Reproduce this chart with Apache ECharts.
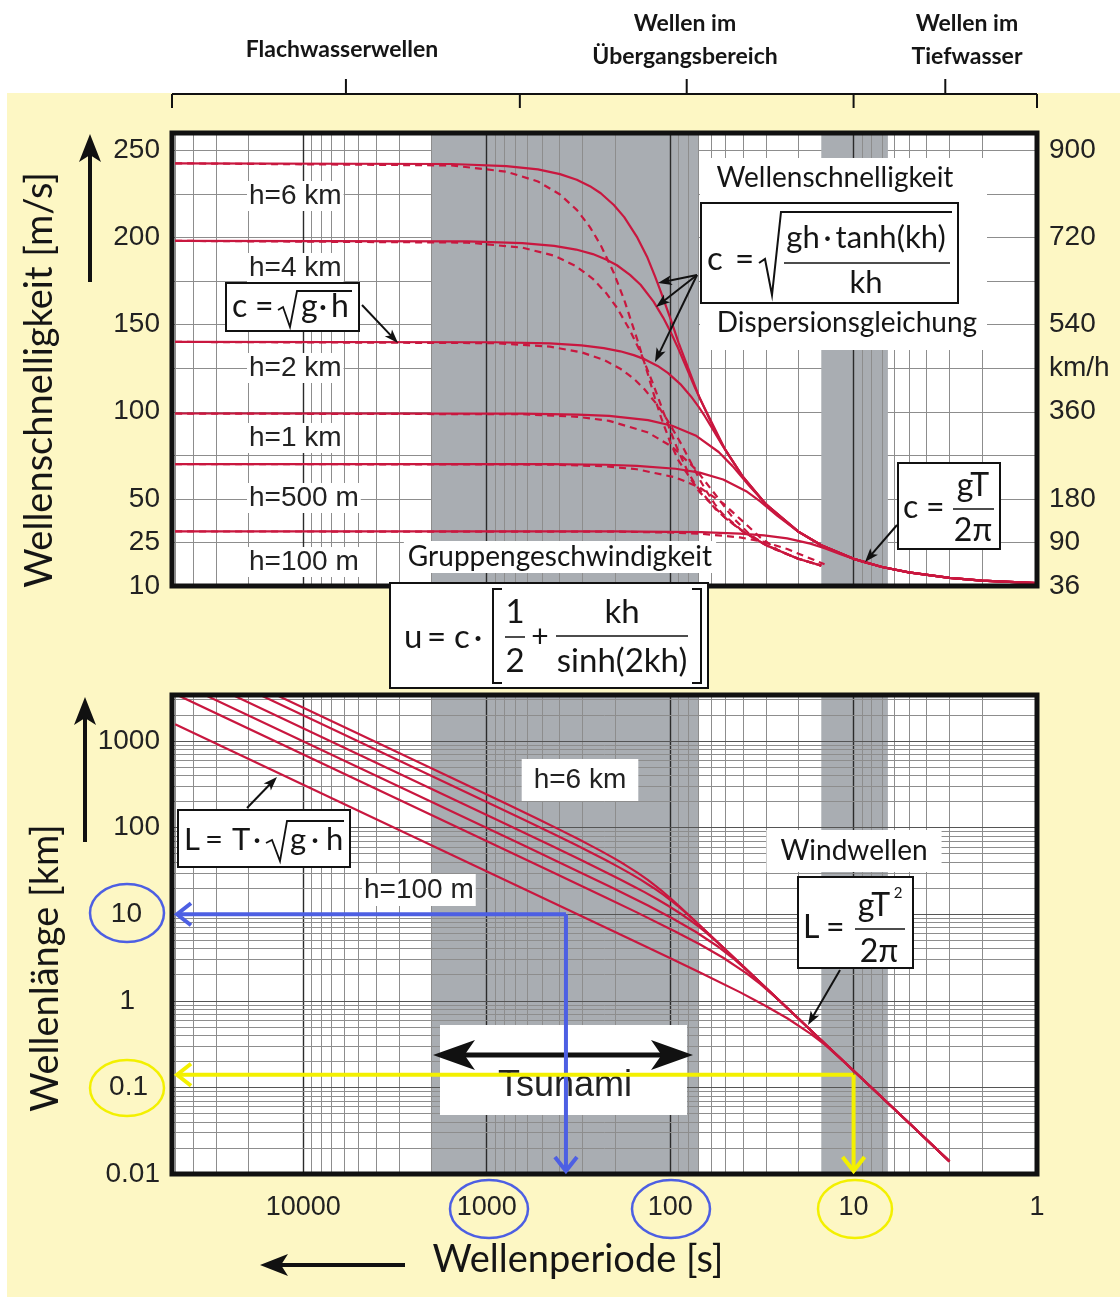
<!DOCTYPE html>
<html>
<head>
  <meta charset="UTF-8">
  <title>Wellenschnelligkeit und Wellenlänge</title>
  <script src="https://cdn.jsdelivr.net/npm/echarts@6/dist/echarts.min.js"></script>
  <style>
    body { margin: 0; background: #fff; }
    #main { width: 1120px; height: 1299px; }
  </style>
</head>
<body>
<div id="main"></div>
<script type="text/javascript">
  // ---- ticks ----
  var periodTicks = [1, 10, 100, 1000, 10000];
  var periodTickLabels = ['1', '10', '100', '1000', '10000'];
  var speedTickValues = [0, 25, 50, 100, 150, 200, 250];
  var speedTickLeft = ['10', '25', '50', '100', '150', '200', '250'];
  var speedTickRightValues = [0, 25, 50, 100, 125, 150, 200, 250];
  var speedTickRight = ['36', '90', '180', '360', 'km/h', '540', '720', '900'];
  var lengthTicks = [0.01, 0.1, 1, 10, 100, 1000];
  var lengthTickLabels = ['0.01', '0.1', '1', '10', '100', '1000'];
  var lengthLabelPad = [0, 12, 25, 18, 0, 0];

  // grey period bands [from, to] in s
  var bandRanges = [[2000, 70], [15, 6.5]];
  // bracket limits of the three wave regimes (s)
  var regimeLimits = [52000, 660, 10, 1];

  // ---- curves ----
  var depths = ['h=6 km', 'h=4 km', 'h=2 km', 'h=1 km', 'h=500 m', 'h=100 m'];

  var period6000 = [50000, 1557, 782, 526, 398.6, 323, 273.8, 239, 202.8, 178, 150.9, 133, 121.1, 112, 98.9, 90, 69.5, 50, 40, 30, 20, 15, 10, 7, 5, 3, 2, 1];
  var phase6000 = [242.6, 242.2, 241.0, 239.1, 236.4, 233.2, 229.5, 225.4, 218.7, 211.7, 199.9, 188.5, 177.9, 168.4, 152.4, 139.7, 108.5, 78.1, 62.4, 46.8, 31.2, 23.4, 15.6, 10.9, 7.8, 4.7, 3.1, 1.6];
  var group6000 = [242.6, 241.4, 237.8, 232.2, 224.7, 215.9, 206.0, 195.6, 179.7, 164.2, 141.2, 122.4, 107.8, 96.6, 81.3, 71.9, 54.2, 39.0, 31.2, 23.4, 15.6, 11.7];
  var length6000 = [12130, 377, 188.5, 125.8, 94.2, 75.3, 62.8, 53.9, 44.4, 37.7, 30.2, 25.1, 21.5, 18.9, 15.1, 12.6, 7.54, 3.90, 2.50, 1.40, 0.624, 0.351, 0.156, 0.0765, 0.039, 0.014];

  var period4000 = [50000, 1271, 639, 429, 325.5, 264, 223.6, 195, 165.6, 145, 123.2, 109, 98.9, 91.4, 80.8, 73.4, 56.8, 50, 40, 30, 20, 15, 10, 7, 5, 3, 2, 1];
  var phase4000 = [198.1, 197.8, 196.8, 195.2, 193.1, 190.5, 187.4, 184.1, 178.6, 172.9, 163.2, 153.9, 145.3, 137.5, 124.4, 114.1, 88.6, 78.1, 62.4, 46.8, 31.2, 23.4, 15.6, 10.9, 7.8, 4.7, 3.1, 1.6];
  var group4000 = [198.1, 197.1, 194.2, 189.6, 183.5, 176.3, 168.2, 159.7, 146.7, 134.1, 115.3, 100.0, 88.0, 78.8, 66.4, 58.7, 44.3, 39.0, 31.2, 23.4, 15.6, 11.7];
  var length4000 = [9905, 251.4, 125.8, 83.7, 62.9, 50.3, 41.9, 35.9, 29.6, 25.1, 20.1, 16.8, 14.4, 12.6, 10.05, 8.37, 5.03, 3.90, 2.50, 1.40, 0.624, 0.351, 0.156, 0.0765, 0.039, 0.014];

  var period2000 = [50000, 899, 452, 304, 230.1, 187, 158, 138, 117, 103, 87.1, 77, 69.9, 64.6, 57.1, 51.9, 40.1, 30, 20, 15, 10, 7, 5, 3, 2, 1];
  var phase2000 = [140.1, 139.9, 139.2, 138.1, 136.5, 134.7, 132.5, 130.2, 126.3, 122.3, 115.4, 108.8, 102.8, 97.3, 88.0, 80.7, 62.7, 46.8, 31.2, 23.4, 15.6, 10.9, 7.8, 4.7, 3.1, 1.6];
  var group2000 = [140.1, 139.4, 137.4, 134.1, 129.8, 124.7, 119.0, 112.9, 103.7, 94.8, 81.6, 70.7, 62.2, 55.8, 47.0, 41.5, 31.3, 23.4, 15.6, 11.7];
  var length2000 = [7005, 125.8, 62.9, 42.0, 31.4, 25.2, 20.9, 18.0, 14.8, 12.6, 10.05, 8.38, 7.19, 6.29, 5.02, 4.19, 2.51, 1.40, 0.624, 0.351, 0.156, 0.0765, 0.039, 0.014];

  var period1000 = [50000, 635, 319, 215, 132, 97.5, 72.7, 54.4, 45.7, 36.7, 28.4, 20, 15, 10, 7, 5, 3, 2, 1];
  var phase1000 = [99.0, 98.9, 98.4, 97.6, 95.2, 92.0, 86.4, 76.9, 68.8, 57.0, 44.3, 31.2, 23.4, 15.6, 10.9, 7.8, 4.7, 3.1, 1.6];
  var group1000 = [99.0, 98.6, 97.1, 94.8, 88.1, 79.9, 67.1, 50.0, 39.4, 29.4, 22.1, 15.6, 11.7];
  var length1000 = [4950, 62.8, 31.4, 21.0, 12.6, 8.97, 6.28, 4.18, 3.14, 2.09, 1.26, 0.624, 0.351, 0.156, 0.0765, 0.039, 0.014];

  var period500 = [50000, 449, 226, 152, 93.3, 69, 51.4, 38.5, 32.3, 26, 20.1, 15, 10, 7, 5, 3, 2, 1];
  var phase500 = [70.0, 69.9, 69.6, 69.0, 67.3, 65.1, 61.1, 54.4, 48.6, 40.3, 31.3, 23.4, 15.6, 10.9, 7.8, 4.7, 3.1, 1.6];
  var group500 = [70.0, 69.7, 68.7, 67.0, 62.3, 56.5, 47.4, 35.3, 27.9, 20.8, 15.7, 11.7];
  var length500 = [3500, 31.4, 15.7, 10.5, 6.28, 4.49, 3.14, 2.09, 1.57, 1.05, 0.629, 0.351, 0.156, 0.0765, 0.039, 0.014];

  var period100 = [50000, 201, 101, 67.9, 41.7, 30.8, 23, 17.2, 14.4, 11.6, 8.97, 7, 5, 3, 2, 1];
  var phase100 = [31.3, 31.3, 31.1, 30.9, 30.1, 29.1, 27.3, 24.3, 21.7, 18.0, 14.0, 10.9, 7.8, 4.7, 3.1, 1.6];
  var group100 = [31.3, 31.2, 30.7, 30.0, 27.9, 25.3, 21.2, 15.8, 12.5];
  var length100 = [1565, 6.29, 3.14, 2.10, 1.26, 0.896, 0.629, 0.418, 0.313, 0.209, 0.126, 0.0765, 0.039, 0.014];

  // marked example points: [period s, wavelength km]
  var tsunamiExample = [370, 10];
  var windExample = [10, 0.14];

  var periods = [period6000, period4000, period2000, period1000, period500, period100];
  var phases = [phase6000, phase4000, phase2000, phase1000, phase500, phase100];
  var groups = [group6000, group4000, group2000, group1000, group500, group100];
  var lengths = [length6000, length4000, length2000, length1000, length500, length100];

  // ---- layout ----
  var TOP = {left: 172, top: 133, width: 865, height: 453};
  var BOT = {left: 172, top: 695, width: 865, height: 479};
  var RED = '#c9173f';
  var BLUE = '#4d5fe3';
  var YELLOW = '#f3f000';
  var TICK_FONT = '"Liberation Sans", Arial, sans-serif';
  var TEXT_FONT = 'Lato, "Noto Sans", sans-serif';

  function pairs(xs, ys) {
    return ys.map(function (y, i) { return [xs[i], y]; });
  }
  function decadeIndex(v, ticks) {
    var e = Math.log10(v);
    if (Math.abs(e - Math.round(e)) > 1e-6) return -1;
    for (var i = 0; i < ticks.length; i++) {
      if (Math.round(Math.log10(ticks[i])) === Math.round(e)) return i;
    }
    return -1;
  }

  // log grid lines
  var vLines = [], hLines = [];
  for (var d = 0; d <= 4; d++) {
    for (var k = 1; k <= 9; k++) {
      var v = k * Math.pow(10, d);
      if (v <= 1 || v >= 52000) continue;
      vLines.push({xAxis: v, lineStyle: k === 1 ? {color: '#2b2b2b', width: 1.4, type: 'solid'} : {color: '#8d8d8d', width: 1, type: 'solid'}});
    }
  }
  for (var d2 = -2; d2 <= 3; d2++) {
    for (var k2 = 1; k2 <= 9; k2++) {
      var w = k2 * Math.pow(10, d2);
      if (w <= 0.0100001 || w >= 3400) continue;
      hLines.push({yAxis: w, lineStyle: k2 === 1 ? {color: '#555', width: 1.2, type: 'solid'} : {color: '#8d8d8d', width: 1, type: 'solid'}});
    }
  }

  function helper(xi, yi, lines) {
    return [{
      type: 'line', xAxisIndex: xi, yAxisIndex: yi, data: [], silent: true, z: 1,
      markArea: {
        silent: true, z: 1, itemStyle: {color: '#a9adb2'},
        data: bandRanges.map(function (b) { return [{xAxis: b[0]}, {xAxis: b[1]}]; })
      }
    }, {
      type: 'line', xAxisIndex: xi, yAxisIndex: yi, data: [], silent: true, z: 2,
      markLine: {
        silent: true, z: 2, symbol: ['none', 'none'], label: {show: false}, animation: false,
        lineStyle: {type: 'solid'}, data: lines
      }
    }];
  }

  function curve(name, data, xi, yi, dashed) {
    return {
      type: 'line', name: name, xAxisIndex: xi, yAxisIndex: yi, data: data,
      showSymbol: false, symbol: 'none', smooth: false, z: 5, silent: true,
      lineStyle: {color: RED, width: 2.2, type: dashed ? [7, 5] : 'solid'}
    };
  }

  var series = [];
  series = series.concat(helper(0, 0, vLines));
  series = series.concat(helper(1, 2, vLines.concat(hLines)));
  for (var i = 0; i < depths.length; i++) {
    series.push(curve(depths[i] + ' c', pairs(periods[i], phases[i]), 0, 0, false));
    series.push(curve(depths[i] + ' u', pairs(periods[i], groups[i]), 0, 0, true));
    series.push(curve(depths[i] + ' L', pairs(periods[i], lengths[i]), 1, 2, false));
  }

  var periodAxis = {
    type: 'log', logBase: 10, min: 1, max: 52000, inverse: true,
    axisLine: {show: false}, axisTick: {show: false}, splitLine: {show: false}
  };

  var lengthRich = {};
  lengthLabelPad.forEach(function (p) {
    lengthRich['p' + p] = {padding: [0, p, 0, 0], fontSize: 28, fontFamily: TICK_FONT, color: '#222'};
  });

  var option = {
    animation: false,
    backgroundColor: '#fff',
    grid: [
      {left: TOP.left, top: TOP.top, width: TOP.width, height: TOP.height},
      {left: BOT.left, top: BOT.top, width: BOT.width, height: BOT.height}
    ],
    xAxis: [
      Object.assign({}, periodAxis, {gridIndex: 0, axisLabel: {show: false}}),
      Object.assign({}, periodAxis, {
        gridIndex: 1,
        axisLabel: {
          margin: 20, fontSize: 27, fontFamily: TICK_FONT, color: '#222',
          formatter: function (v) { var j = decadeIndex(v, periodTicks); return j < 0 ? '' : periodTickLabels[j]; }
        }
      })
    ],
    yAxis: [
      {
        type: 'value', gridIndex: 0, min: 0, max: 260, interval: 25,
        axisLine: {show: false}, axisTick: {show: false},
        splitLine: {show: true, lineStyle: {color: '#8d8d8d', width: 1}},
        axisLabel: {
          margin: 12, fontSize: 28, fontFamily: TICK_FONT, color: '#222',
          formatter: function (v) { var j = speedTickValues.indexOf(v); return j < 0 ? '' : speedTickLeft[j]; }
        }
      },
      {
        type: 'value', gridIndex: 0, position: 'right', min: 0, max: 260, interval: 25,
        axisLine: {show: false}, axisTick: {show: false}, splitLine: {show: false},
        axisLabel: {
          margin: 12, fontSize: 28, fontFamily: TICK_FONT, color: '#222',
          formatter: function (v) { var j = speedTickRightValues.indexOf(v); return j < 0 ? '' : speedTickRight[j]; }
        }
      },
      {
        type: 'log', logBase: 10, gridIndex: 1, min: 0.01, max: 3400,
        axisLine: {show: false}, axisTick: {show: false}, splitLine: {show: false},
        axisLabel: {
          margin: 12, fontSize: 28, fontFamily: TICK_FONT, color: '#222', rich: lengthRich,
          formatter: function (v) {
            var j = decadeIndex(v, lengthTicks);
            return j < 0 ? '' : '{p' + lengthLabelPad[j] + '|' + lengthTickLabels[j] + '}';
          }
        }
      }
    ],
    series: series
  };

  var myChart = echarts.init(document.getElementById('main'), null, {renderer: 'canvas'});
  myChart.setOption(option);

  // ---- annotations ----
  function t(s, x, y, size, o) {
    o = o || {};
    return {
      type: 'text', x: x, y: y, z: o.z || 12, silent: true, rotation: o.rot || 0,
      style: {
        text: s, fontSize: size, fontFamily: o.font || TEXT_FONT, fontWeight: o.bold ? 'bold' : 'normal',
        fill: o.color || '#151515', align: o.align || 'center', verticalAlign: 'middle',
        backgroundColor: o.bg, padding: o.pad
      }
    };
  }
  function seg(x1, y1, x2, y2, w, color, z) {
    return {type: 'line', z: z || 12, silent: true, shape: {x1: x1, y1: y1, x2: x2, y2: y2},
      style: {stroke: color || '#111', lineWidth: w || 1.5}};
  }
  function poly(pts, w, color, z) {
    return {type: 'polyline', z: z || 12, silent: true, shape: {points: pts},
      style: {stroke: color || '#111', lineWidth: w || 1.5, fill: null}};
  }
  function rect(x, y, w, h, fill, stroke, lw, z) {
    return {type: 'rect', z: z, silent: true, shape: {x: x, y: y, width: w, height: h},
      style: {fill: fill, stroke: stroke || null, lineWidth: lw || 0}};
  }
  function arrow(x1, y1, x2, y2, w, color, hl, hw, z) {
    var a = Math.atan2(y2 - y1, x2 - x1);
    var bx = x2 - hl * Math.cos(a), by = y2 - hl * Math.sin(a);
    var px = -Math.sin(a) * hw / 2, py = Math.cos(a) * hw / 2;
    return [
      seg(x1, y1, bx + (x2 - bx) * 0.3, by + (y2 - by) * 0.3, w, color, z),
      {type: 'polygon', z: z || 12, silent: true,
        shape: {points: [[x2, y2], [bx + px, by + py], [bx + (x2 - bx) * 0.25, by + (y2 - by) * 0.25], [bx - px, by - py]]},
        style: {fill: color || '#111'}}
    ];
  }
  function chevron(x1, y1, x2, y2, w, color, hl, hw, z) {
    var a = Math.atan2(y2 - y1, x2 - x1);
    var bx = x2 - hl * Math.cos(a), by = y2 - hl * Math.sin(a);
    var px = -Math.sin(a) * hw / 2, py = Math.cos(a) * hw / 2;
    return [
      seg(x1, y1, x2, y2, w, color, z),
      poly([[bx + px, by + py], [x2, y2], [bx - px, by - py]], w, color, z)
    ];
  }
  function ellipse(cx, cy, rx, ry, color) {
    return {type: 'ellipse', z: 14, silent: true, shape: {cx: cx, cy: cy, rx: rx, ry: ry},
      style: {stroke: color, lineWidth: 2.5, fill: null}};
  }
  function xPix(T) { return myChart.convertToPixel({xAxisIndex: 0}, T); }

  var g = [];
  // backgrounds
  g.push(rect(7, 93, 1113, 1204, '#fdf7c4', null, 0, -3));
  g.push(rect(TOP.left, TOP.top, TOP.width, TOP.height, '#fff', null, 0, -2));
  g.push(rect(BOT.left, BOT.top, BOT.width, BOT.height, '#fff', null, 0, -2));
  // plot frames
  g.push(rect(TOP.left, TOP.top, TOP.width, TOP.height, null, '#111', 5, 8));
  g.push(rect(BOT.left, BOT.top, BOT.width, BOT.height, null, '#111', 5, 8));

  // regime brackets
  var bx = regimeLimits.map(xPix);
  g.push(seg(bx[0], 94, bx[3], 94, 2, '#111', 12));
  bx.forEach(function (x) { g.push(seg(x, 94, x, 108, 2, '#111', 12)); });
  for (var b = 0; b < 3; b++) {
    var mid = (bx[b] + bx[b + 1]) / 2;
    g.push(seg(mid, 94, mid, 79, 2, '#111', 12));
  }
  g.push(t('Flachwasserwellen', 342, 50, 23, {bold: true}));
  g.push(t('Wellen im', 685, 24, 23, {bold: true}));
  g.push(t('Übergangsbereich', 685, 57, 23, {bold: true}));
  g.push(t('Wellen im', 967, 24, 23, {bold: true}));
  g.push(t('Tiefwasser', 967, 57, 23, {bold: true}));

  // axis titles + arrows
  g.push(t('Wellenschnelligkeit [m/s]', 40, 380, 38, {rot: Math.PI / 2}));
  g.push(t('Wellenlänge [km]', 46, 968, 38, {rot: Math.PI / 2}));
  g.push(t('Wellenperiode [s]', 578, 1260, 38));
  g = g.concat(arrow(90, 282, 90, 134, 4, '#111', 28, 22, 12));
  g = g.concat(arrow(85, 842, 85, 697, 4, '#111', 28, 22, 12));
  g = g.concat(arrow(405, 1265, 260, 1265, 4, '#111', 28, 22, 12));

  // depth labels, top panel
  var depthLabelY = [196, 268, 368, 438, 498, 562];
  depths.forEach(function (dname, i) {
    g.push(t(dname, 247, depthLabelY[i], 28, {font: TICK_FONT, align: 'left', bg: '#fff', pad: [1, 2], color: '#222', z: 10}));
  });

  // top right text block
  g.push(rect(700, 158, 287, 192, '#fff', null, 0, 9));
  g.push(t('Wellenschnelligkeit', 835, 178, 28));
  g.push(t('Dispersionsgleichung', 847, 323, 28));
  // c = sqrt(gh tanh(kh)/kh)
  g.push(rect(701, 203, 257, 100, '#fff', '#111', 2, 10));
  g.push(t('c', 707, 259, 33, {align: 'left'}));
  g.push(t('=', 735, 259, 33, {align: 'left'}));
  g.push(poly([[759, 263], [765, 259], [772, 295], [781, 212], [952, 212]], 2));
  g.push(t('gh\u2009·\u2009tanh(kh)', 866, 238, 31));
  g.push(seg(784, 263, 950, 263, 1.5));
  g.push(t('kh', 866, 283, 31));
  g = g.concat(arrow(697, 275, 658, 283, 2, '#111', 14, 10));
  g = g.concat(arrow(697, 275, 656, 307, 2, '#111', 14, 10));
  g = g.concat(arrow(697, 275, 655, 362, 2, '#111', 14, 10));

  // c = sqrt(g h)
  g.push(rect(226, 283, 133, 48, '#fff', '#111', 2, 10));
  g.push(t('c', 232, 307, 32, {align: 'left'}));
  g.push(t('=', 255, 307, 32, {align: 'left'}));
  g.push(poly([[278, 310], [283, 307], [290, 327], [297, 291], [352, 291]], 1.8));
  g.push(t('g', 301, 307, 32, {align: 'left'}));
  g.push(t('·', 323, 307, 32));
  g.push(t('h', 331, 307, 32, {align: 'left'}));
  g = g.concat(arrow(362, 305, 398, 343, 2, '#111', 14, 10));

  // c = gT / 2pi
  g.push(rect(898, 463, 102, 86, '#fff', '#111', 2, 10));
  g.push(t('c', 903, 508, 32, {align: 'left'}));
  g.push(t('=', 926, 508, 32, {align: 'left'}));
  g.push(t('gT', 973, 486, 32));
  g.push(seg(953, 509, 994, 509, 1.5));
  g.push(t('2π', 973, 531, 32));
  g = g.concat(arrow(897, 525, 865, 562, 2, '#111', 14, 10));

  // group velocity
  g.push(t('Gruppengeschwindigkeit', 560, 557, 28, {bg: '#fff', pad: [2, 4], z: 10}));
  g.push(rect(390, 583, 318, 105, '#fff', '#111', 2, 10));
  g.push(t('u', 404, 637, 33, {align: 'left'}));
  g.push(t('=', 427, 637, 33, {align: 'left'}));
  g.push(t('c', 454, 637, 33, {align: 'left'}));
  g.push(t('·', 478, 637, 33));
  g.push(poly([[502, 589], [493, 589], [493, 683], [502, 683]], 2));
  g.push(t('1', 515, 612, 33));
  g.push(seg(505, 637, 525, 637, 1.5));
  g.push(t('2', 515, 661, 33));
  g.push(t('+', 540, 637, 30));
  g.push(t('kh', 622, 612, 33));
  g.push(seg(556, 636, 688, 636, 1.5));
  g.push(t('sinh(2kh)', 622, 661, 33));
  g.push(poly([[692, 589], [701, 589], [701, 683], [692, 683]], 2));

  // bottom panel labels
  g.push(t('h=6 km', 580, 780, 28, {font: TICK_FONT, bg: '#fff', pad: [7, 12], color: '#222', z: 10}));
  g.push(t('h=100 m', 362, 890, 28, {font: TICK_FONT, align: 'left', bg: '#fff', pad: [2, 2], color: '#222', z: 10}));

  // L = T sqrt(gh)
  g.push(rect(178, 810, 172, 57, '#fff', '#111', 2, 10));
  g.push(t('L', 184, 840, 31, {align: 'left'}));
  g.push(t('=', 205, 840, 31, {align: 'left'}));
  g.push(t('T', 232, 840, 31, {align: 'left'}));
  g.push(t('·', 257, 840, 31));
  g.push(poly([[266, 843], [272, 840], [280, 861], [287, 821], [344, 821]], 1.8));
  g.push(t('g', 290, 840, 31, {align: 'left'}));
  g.push(t('·', 315, 840, 31));
  g.push(t('h', 326, 840, 31, {align: 'left'}));
  g = g.concat(arrow(247, 808, 277, 777, 2, '#111', 14, 10));

  // wind waves
  g.push(t('Windwellen', 854, 851, 28, {bg: '#fff', pad: [7, 14], z: 10}));
  g.push(rect(798, 877, 115, 91, '#fff', '#111', 2, 10));
  g.push(t('L', 803, 928, 32, {align: 'left'}));
  g.push(t('=', 826, 928, 32, {align: 'left'}));
  g.push(t('gT', 874, 906, 32));
  g.push(t('2', 898, 893, 15));
  g.push(seg(855, 929, 905, 929, 1.5));
  g.push(t('2π', 879, 952, 32));
  g = g.concat(arrow(840, 970, 808, 1025, 2, '#111', 14, 10));

  // tsunami
  g.push(rect(440, 1025, 247, 90, '#fff', null, 0, 10));
  g.push(t('Tsunami', 565, 1086, 36, {font: TICK_FONT, color: '#222'}));
  g = g.concat(arrow(563, 1055, 433, 1055, 5, '#111', 42, 30, 13));
  g = g.concat(arrow(563, 1055, 693, 1055, 5, '#111', 42, 30, 13));

  // worked examples (blue: tsunami, yellow: wind wave)
  var pb = myChart.convertToPixel({gridIndex: 1}, tsunamiExample);
  var py = myChart.convertToPixel({gridIndex: 1}, windExample);
  var bottomY = BOT.top + BOT.height - 3;
  var leftX = BOT.left + 5;
  g = g.concat(chevron(pb[0], pb[1], leftX, pb[1], 4, BLUE, 14, 22, 15));
  g = g.concat(chevron(pb[0], pb[1], pb[0], bottomY, 4, BLUE, 14, 22, 15));
  g = g.concat(chevron(py[0], py[1], leftX, py[1], 4, YELLOW, 14, 22, 15));
  g = g.concat(chevron(py[0], py[1], py[0], bottomY, 4, YELLOW, 14, 22, 15));
  g.push(ellipse(127, 913, 37, 29, BLUE));
  g.push(ellipse(127, 1088, 37, 28, YELLOW));
  g.push(ellipse(489, 1209, 39, 29, BLUE));
  g.push(ellipse(671, 1209, 39, 29, BLUE));
  g.push(ellipse(855, 1209, 37, 29, YELLOW));

  myChart.setOption({graphic: {elements: g}});
</script>
</body>
</html>
